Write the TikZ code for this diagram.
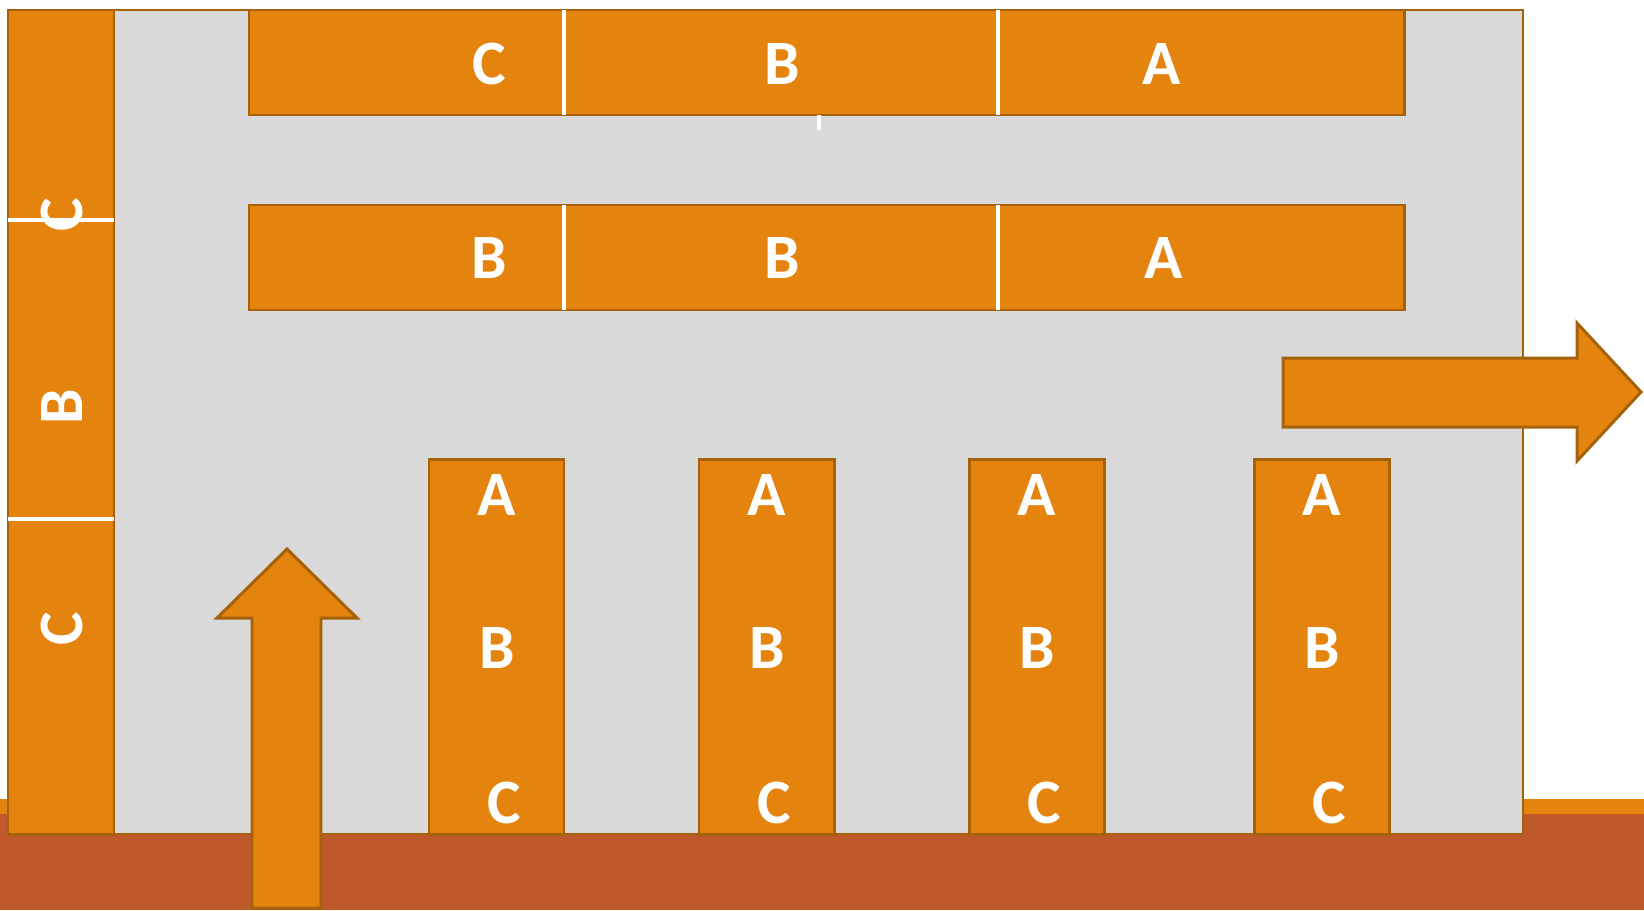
\documentclass[tikz,border=0pt]{standalone}
\usepackage{fontspec}
\setmainfont{Carlito}
\usetikzlibrary{positioning}
\definecolor{blkorange}{HTML}{E5830F}
\definecolor{blkedge}{HTML}{A5620A}
\definecolor{floorred}{HTML}{BE592C}
\definecolor{wallgray}{HTML}{D9D9D9}
\tikzset{
  blk/.style={fill=blkorange, draw=blkedge, line width=1.7pt},
  sep/.style={white, line width=2.3pt},
  lbl/.style={font=\fontsize{36}{36}\selectfont\bfseries, text=white, inner sep=0pt},
}

\begin{document}
\begin{tikzpicture}[x=0.02cm,y=-0.02cm]
\useasboundingbox (0,0) rectangle (1644,910);
% floor band
\fill[blkorange] (0,799) rectangle (1644,814);
\fill[floorred] (0,814) rectangle (1644,910);
% wall
\draw[fill=wallgray, draw=blkedge, line width=1.2pt] (8,10) rectangle (1523,834);
% left column
\draw[blk] (8,10) rectangle (114,834);
\draw[sep] (8,220) -- (114,220);
\draw[sep] (8,519) -- (114,519);
\node[lbl, rotate=90] (lc1) at (62,215) {C};
\node[lbl, rotate=90] (lc2) at (62,407) {B};
\node[lbl, rotate=90] (lc3) at (62,629) {C};
% top bar
\draw[blk] (249,10) rectangle (1404,115);
\draw[sep] (564,10) -- (564,115);
\draw[sep] (998,10) -- (998,115);
\draw[sep] (819,115) -- (819,130);
\node[lbl] (tc) at (489,64) {C};
\node[lbl] (tb) at (782,64) {B};
\node[lbl] (ta) at (1162,64) {A};
% second bar
\draw[blk] (249,205) rectangle (1404,310);
\draw[sep] (564,205) -- (564,310);
\draw[sep] (998,205) -- (998,310);
\node[lbl] (mb1) at (489,258) {B};
\node[lbl] (mb2) at (782,258) {B};
\node[lbl] (ma) at (1164,258) {A};
% standing columns
\foreach \xl/\n in {429/1,699/2,969/3,1254/4}{
  \draw[blk] (\xl,459) rectangle ++(135,375);
  \node[lbl] (ca\n) at (\xl+68,495) {A};
  \node[lbl] (cb\n) at (\xl+68,648) {B};
  \node[lbl] (cc\n) at (\xl+75,803) {C};
}
% arrows
\draw[blk] (1283,358) -- (1577,358) -- (1577,323) -- (1641,392)
  -- (1577,461) -- (1577,427) -- (1283,427) -- cycle;
\draw[blk] (252,908) -- (252,618) -- (217,618) -- (287,549)
  -- (357,618) -- (321,618) -- (321,908) -- cycle;
\end{tikzpicture}
\end{document}
